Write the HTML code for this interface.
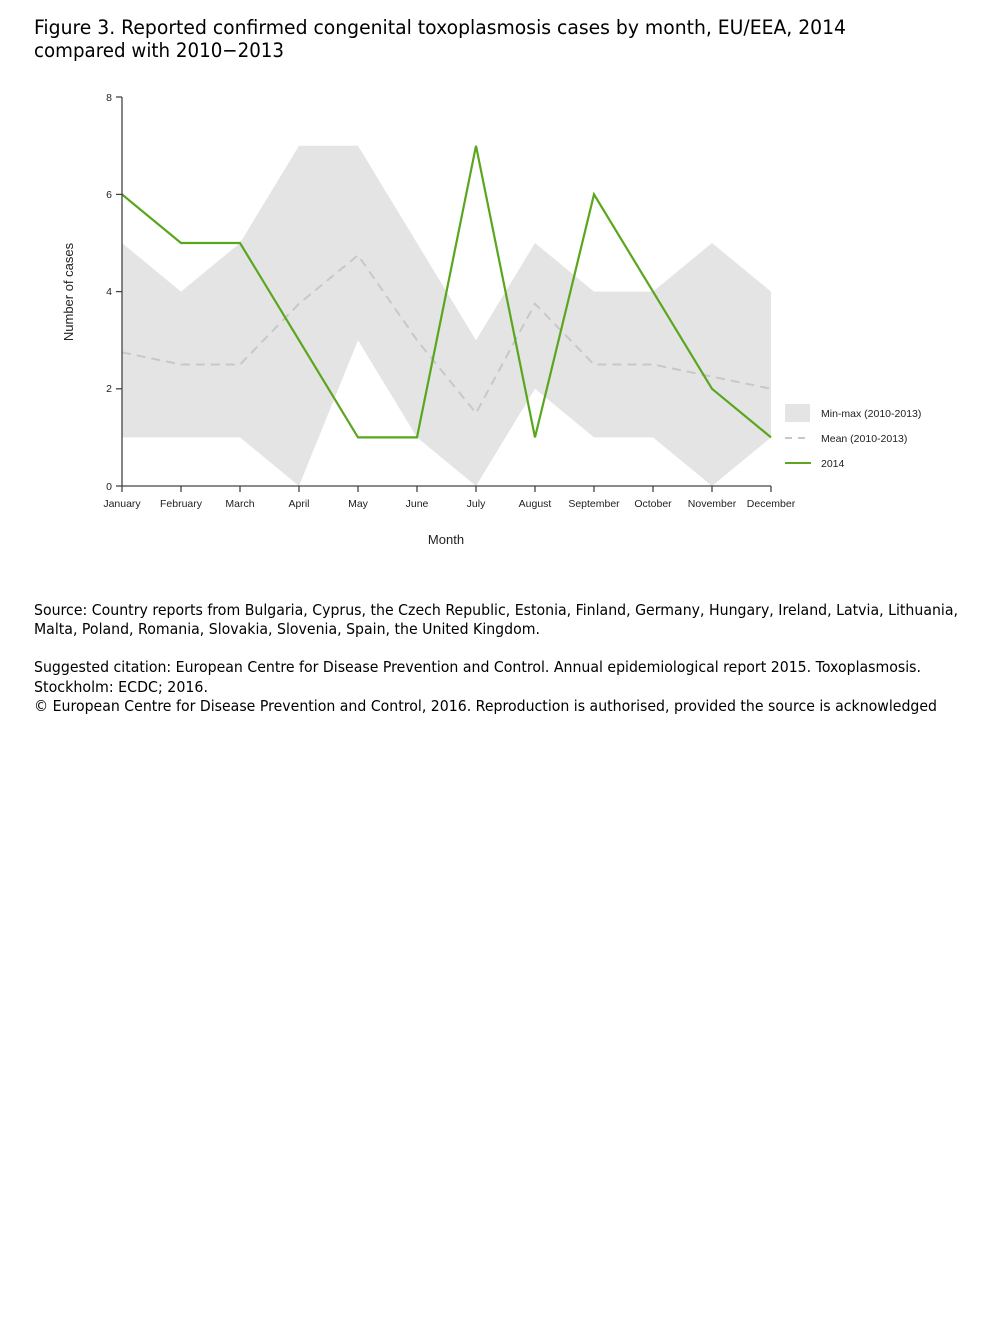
<!DOCTYPE html>
<html><head><meta charset="utf-8"><style>html,body{margin:0;padding:0;background:#fff}svg{display:block}</style></head>
<body>
<svg width="1008" height="1344" viewBox="0 0 1008 1344" xmlns="http://www.w3.org/2000/svg">
<g font-family="'DejaVu Sans', Verdana, sans-serif" fill="#000">
<text x="34" y="34" font-size="19.5" textLength="812" lengthAdjust="spacingAndGlyphs">Figure 3. Reported confirmed congenital toxoplasmosis cases by month, EU/EEA, 2014</text>
<text x="34" y="57" font-size="19.5" textLength="250" lengthAdjust="spacingAndGlyphs">compared with 2010−2013</text>
<text x="34" y="615" font-size="15" textLength="924" lengthAdjust="spacingAndGlyphs">Source: Country reports from Bulgaria, Cyprus, the Czech Republic, Estonia, Finland, Germany, Hungary, Ireland, Latvia, Lithuania,</text>
<text x="34" y="634" font-size="15" textLength="506" lengthAdjust="spacingAndGlyphs">Malta, Poland, Romania, Slovakia, Slovenia, Spain, the United Kingdom.</text>
<text x="34" y="672" font-size="15" textLength="887" lengthAdjust="spacingAndGlyphs">Suggested citation: European Centre for Disease Prevention and Control. Annual epidemiological report 2015. Toxoplasmosis.</text>
<text x="34" y="692" font-size="15" textLength="174" lengthAdjust="spacingAndGlyphs">Stockholm: ECDC; 2016.</text>
<text x="34" y="711" font-size="15" textLength="903" lengthAdjust="spacingAndGlyphs">© European Centre for Disease Prevention and Control, 2016. Reproduction is authorised, provided the source is acknowledged</text>
</g>
<polygon fill="#e4e4e4" points="122,243 181,291.6 240,243 299,145.8 358,145.8 417,243 476,340.2 535,243 594,291.6 653,291.6 712,243 771,291.6 771,437.4 712,486 653,437.4 594,437.4 535,388.8 476,486 417,437.4 358,340.2 299,486 240,437.4 181,437.4 122,437.4"/>
<polyline fill="none" stroke="#c8c8c8" stroke-width="2" stroke-dasharray="9,6" points="122,352.35 181,364.5 240,364.5 299,303.75 358,255.15 417,340.2 476,413.1 535,303.75 594,364.5 653,364.5 712,376.65 771,388.8"/>
<polyline fill="none" stroke="#5aa61e" stroke-width="2.2" points="122,194.4 181,243 240,243 299,340.2 358,437.4 417,437.4 476,145.8 535,437.4 594,194.4 653,291.6 712,388.8 771,437.4"/>
<g stroke="#444" stroke-width="1.3" fill="none">
<line x1="122" y1="97" x2="122" y2="486"/>
<line x1="122" y1="486" x2="771" y2="486"/>
<line x1="116" y1="97" x2="122" y2="97"/><line x1="116" y1="194.4" x2="122" y2="194.4"/><line x1="116" y1="291.6" x2="122" y2="291.6"/><line x1="116" y1="388.8" x2="122" y2="388.8"/><line x1="116" y1="486" x2="122" y2="486"/>
<path d="M122 486v6M181 486v6M240 486v6M299 486v6M358 486v6M417 486v6M476 486v6M535 486v6M594 486v6M653 486v6M712 486v6M771 486v6"/>
</g>
<g font-family="'Liberation Sans', Arial, sans-serif" font-size="10.5" fill="#222">
<text x="112" y="101" text-anchor="end">8</text>
<text x="112" y="198" text-anchor="end">6</text>
<text x="112" y="295" text-anchor="end">4</text>
<text x="112" y="392" text-anchor="end">2</text>
<text x="112" y="490" text-anchor="end">0</text>
<g text-anchor="middle">
<text x="122" y="507">January</text><text x="181" y="507">February</text><text x="240" y="507">March</text><text x="299" y="507">April</text><text x="358" y="507">May</text><text x="417" y="507">June</text><text x="476" y="507">July</text><text x="535" y="507">August</text><text x="594" y="507">September</text><text x="653" y="507">October</text><text x="712" y="507">November</text><text x="771" y="507">December</text>
</g>
<text x="446" y="544" text-anchor="middle" font-size="13">Month</text>
<text transform="translate(73,292) rotate(-90)" text-anchor="middle" font-size="13">Number of cases</text>
<rect x="785" y="404" width="25" height="18" fill="#e4e4e4"/>
<text x="821" y="417">Min-max (2010-2013)</text>
<line x1="785" y1="438" x2="811" y2="438" stroke="#c8c8c8" stroke-width="2" stroke-dasharray="7,6"/>
<text x="821" y="442">Mean (2010-2013)</text>
<line x1="785" y1="463" x2="811" y2="463" stroke="#5aa61e" stroke-width="2"/>
<text x="821" y="467">2014</text>
</g>
</svg>
</body></html>
